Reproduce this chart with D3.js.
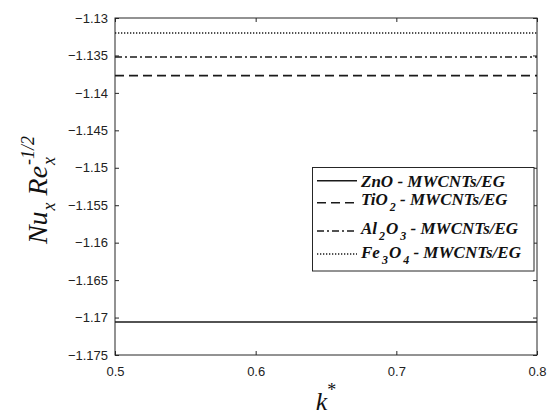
<!DOCTYPE html>
<html>
<head>
<meta charset="utf-8">
<script src="https://cdn.jsdelivr.net/npm/d3@7"></script>
<style>
  html, body { margin: 0; padding: 0; background: #fff; }
  svg { display: block; }
</style>
</head>
<body>
<svg id="chart" width="554" height="415"></svg>
<script>
// Local Nusselt number vs k* for four hybrid nanofluids
const kStar = [0.5, 0.8];
const znoValues  = [-1.1706, -1.1706];
const tio2Values = [-1.1377, -1.1377];
const al2o3Values = [-1.1352, -1.1352];
const fe3o4Values = [-1.1320, -1.1320];

const xTicks = [0.5, 0.6, 0.7, 0.8];
const yTicks = [-1.175, -1.17, -1.165, -1.16, -1.155, -1.15, -1.145, -1.14, -1.135, -1.13];

const seriesNames = [
  { base: "ZnO", parts: [["ZnO", 0]] },
  { base: "TiO2", parts: [["TiO", 0], ["2", 1]] },
  { base: "Al2O3", parts: [["Al", 0], ["2", 1], ["O", 0], ["3", 1]] },
  { base: "Fe3O4", parts: [["Fe", 0], ["3", 1], ["O", 0], ["4", 1]] }
];
const seriesValues = [znoValues, tio2Values, al2o3Values, fe3o4Values];
const dashes = [null, "9,5", "7,3,2,3", "1.3,1.7"];

const svg = d3.select("#chart");
const m = { left: 115, right: 537, top: 18, bottom: 355 };
const ink = "#262626";

const x = d3.scaleLinear().domain([0.5, 0.8]).range([m.left, m.right]);
const y = d3.scaleLinear().domain([-1.175, -1.13]).range([m.bottom, m.top]);

const fmtY = d => d3.format("")(+d.toFixed(3));
const fmtX = d => d.toFixed(1);

// Axes with inward ticks on all four sides
const gl = svg.append("g").attr("transform", `translate(${m.left},0)`)
  .call(d3.axisLeft(y).tickValues(yTicks).tickSize(-4).tickPadding(7).tickFormat(fmtY));
const gr = svg.append("g").attr("transform", `translate(${m.right},0)`)
  .call(d3.axisRight(y).tickValues(yTicks).tickSize(-4).tickFormat(""));
const gb = svg.append("g").attr("transform", `translate(0,${m.bottom})`)
  .call(d3.axisBottom(x).tickValues(xTicks).tickSize(-4).tickPadding(12).tickFormat(fmtX));
const gt = svg.append("g").attr("transform", `translate(0,${m.top})`)
  .call(d3.axisTop(x).tickValues(xTicks).tickSize(-4).tickFormat(""));

[gl, gr, gb, gt].forEach(g => {
  g.select(".domain").remove();
  g.selectAll(".tick line").attr("stroke", ink).attr("stroke-width", 1);
  g.selectAll(".tick text").attr("fill", "#222").attr("font-family", "Liberation Sans, Arial, sans-serif").attr("font-size", 13);
});

svg.append("rect")
  .attr("x", m.left).attr("y", m.top)
  .attr("width", m.right - m.left).attr("height", m.bottom - m.top)
  .attr("fill", "none").attr("stroke", ink).attr("stroke-width", 1);

// Series lines
const line = d3.line().x((d, i) => x(kStar[i])).y(d => y(d));
seriesValues.forEach((vals, i) => {
  svg.append("path")
    .attr("d", line(vals))
    .attr("fill", "none")
    .attr("stroke", "#1a1a1a")
    .attr("stroke-width", 1.6)
    .attr("stroke-dasharray", dashes[i]);
});

// Legend
const lg = svg.append("g");
lg.append("rect")
  .attr("x", 312.5).attr("y", 167.5).attr("width", 221.5).attr("height", 103.5)
  .attr("fill", "#fff").attr("stroke", ink).attr("stroke-width", 1);

const sampleY = [180.7, 202.7, 231, 254];
const textBase = [187, 205, 234, 257.5];
seriesNames.forEach((s, i) => {
  lg.append("line")
    .attr("x1", 317).attr("x2", 357)
    .attr("y1", sampleY[i]).attr("y2", sampleY[i])
    .attr("stroke", "#1a1a1a").attr("stroke-width", 1.5)
    .attr("stroke-dasharray", dashes[i]);
  const t = lg.append("text")
    .attr("x", 361).attr("y", textBase[i])
    .attr("font-family", "Liberation Serif, Times New Roman, serif")
    .attr("font-weight", "bold").attr("font-style", "italic")
    .attr("font-size", 17).attr("fill", "#111");
  let prevSub = false;
  s.parts.forEach(([txt, sub]) => {
    const ts = t.append("tspan").text(txt);
    if (sub) { ts.attr("font-size", 12).attr("dy", prevSub ? 0 : 6).attr("dx", 2); prevSub = true; }
    else if (prevSub) { ts.attr("dy", -6).attr("dx", 1); prevSub = false; }
  });
  const rest = t.append("tspan").text(" - MWCNTs/EG");
  if (prevSub) rest.attr("dy", -6);
});

// Y-axis title
const yl = svg.append("text")
  .attr("transform", "translate(47,190) rotate(-90)")
  .attr("text-anchor", "middle")
  .attr("font-family", "Liberation Serif, Times New Roman, serif")
  .attr("font-style", "italic").attr("font-size", 28).attr("fill", "#111");
yl.append("tspan").text("Nu");
yl.append("tspan").text("x").attr("font-size", 18).attr("dy", 8).attr("dx", 1);
yl.append("tspan").text(" Re").attr("dy", -8);
yl.append("tspan").text("x").attr("font-size", 18).attr("dy", 8).attr("dx", 1);
yl.append("tspan").text("-1/2").attr("font-size", 18).attr("dy", -21).attr("dx", -8);

// X-axis title
const xl = svg.append("text")
  .attr("x", 326).attr("y", 410)
  .attr("text-anchor", "middle")
  .attr("font-family", "Liberation Serif, Times New Roman, serif")
  .attr("font-style", "italic").attr("font-size", 26).attr("fill", "#111");
xl.append("tspan").text("k");
xl.append("tspan").text("*").attr("font-size", 18).attr("dy", -14).attr("font-style", "normal");
</script>
</body>
</html>
